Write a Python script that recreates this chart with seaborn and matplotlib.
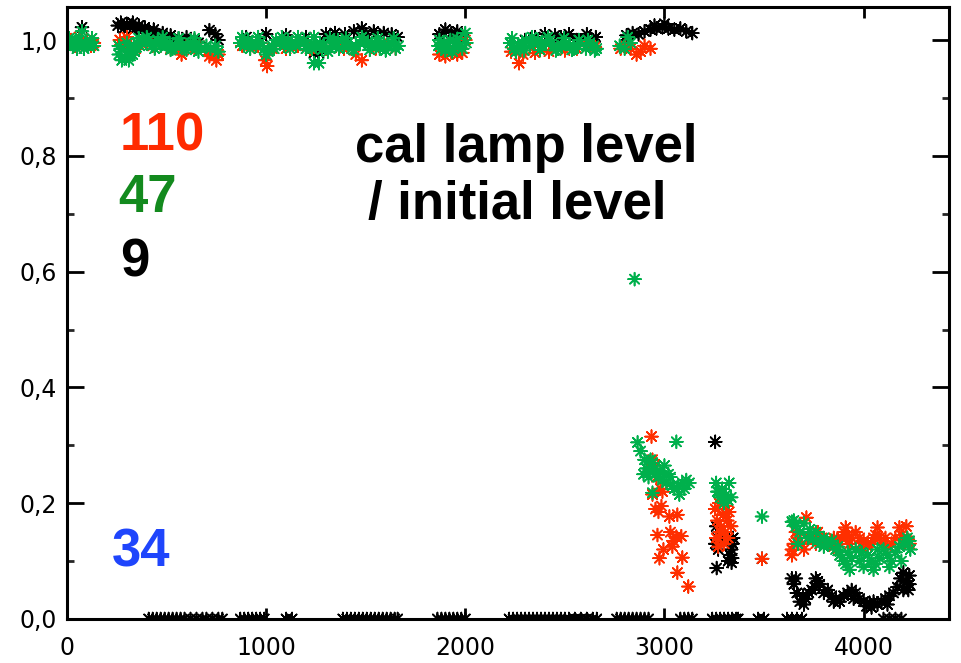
import matplotlib
matplotlib.use("Agg")
import matplotlib.pyplot as plt
from matplotlib.ticker import FixedLocator, MultipleLocator, FuncFormatter
import pandas as pd
import seaborn as sns

# Relative cal-lamp level (level / initial level) versus time, per lamp.
# Each series is a list of (time, relative level) readings.
lamp110 = [
    (0, 0.995), (20, 1.0), (40, 0.99), (60, 1.005), (80, 0.995), (100, 1.0), (120, 0.99), (135, 0.995),
    (265, 1.0), (285, 0.99), (300, 1.005), (320, 0.99), (345, 0.985), (370, 0.995), (400, 0.995),
    (430, 0.99), (470, 0.99), (520, 0.985), (560, 0.985), (575, 0.975), (600, 0.99), (640, 0.985), (665, 0.99),
    (705, 0.98), (715, 0.972), (750, 0.965), (760, 0.975),
    (880, 0.99), (920, 0.985), (960, 0.99), (995, 0.965), (1005, 0.955), (1030, 0.985), (1100, 0.985),
    (1160, 0.99), (1220, 0.985), (1300, 0.985), (1350, 0.99),
    (1390, 0.985), (1450, 0.975), (1480, 0.965), (1550, 0.985), (1600, 0.99), (1650, 0.985),
    (1870, 0.975), (1900, 0.972), (1930, 0.978), (1960, 0.975), (1985, 0.978), (2000, 1.0),
    (2230, 0.98), (2270, 0.96), (2290, 0.975), (2350, 0.978), (2420, 0.98), (2500, 0.982), (2560, 0.985),
    (2620, 0.99), (2650, 0.988),
    (2780, 0.985), (2800, 0.99), (2830, 0.985), (2860, 0.975), (2880, 0.98), (2900, 0.99), (2930, 0.985),
    (2935, 0.315), (2940, 0.275), (2950, 0.265), (2960, 0.245), (2980, 0.225), (2990, 0.22), (2940, 0.215),
    (2955, 0.19), (2970, 0.185), (2985, 0.195), (3025, 0.177), (3065, 0.18), (2965, 0.145), (3030, 0.15),
    (3045, 0.135), (3060, 0.142), (3085, 0.143), (2995, 0.12), (3040, 0.125), (2975, 0.105), (3090, 0.106),
    (3065, 0.08), (3120, 0.056),
    (3255, 0.19), (3265, 0.17), (3275, 0.2), (3285, 0.16), (3295, 0.18), (3305, 0.15), (3315, 0.17),
    (3325, 0.185), (3335, 0.16), (3260, 0.14), (3300, 0.13), (3320, 0.14), (3280, 0.15), (3270, 0.125),
    (3310, 0.195),
    (3490, 0.104),
    (3640, 0.12), (3640, 0.11), (3650, 0.13), (3670, 0.14), (3690, 0.13), (3713, 0.175), (3730, 0.14),
    (3750, 0.145), (3770, 0.15), (3790, 0.14), (3810, 0.135), (3830, 0.13), (3850, 0.125), (3870, 0.135),
    (3890, 0.14), (3900, 0.15), (3910, 0.158), (3920, 0.145), (3940, 0.14), (3960, 0.15), (3980, 0.14),
    (4000, 0.135), (4020, 0.125), (4040, 0.13), (4060, 0.145), (4070, 0.158), (4080, 0.14), (4100, 0.13),
    (4120, 0.125), (4140, 0.13), (4160, 0.14), (4180, 0.158), (4200, 0.14), (4215, 0.16), (4220, 0.135),
    (4230, 0.13),
    (3660, 0.15), (3700, 0.12), (3760, 0.13), (3850, 0.14), (3930, 0.13), (3990, 0.125), (4050, 0.14),
    (4110, 0.14), (4190, 0.145),
]

lamp47 = [
    (0, 0.99), (15, 0.995), (30, 0.99), (45, 1.0), (60, 1.0), (75, 1.015), (90, 0.995), (105, 0.99),
    (120, 0.995), (135, 0.99), (10, 1.003), (50, 0.985), (85, 0.985), (125, 1.003),
    (260, 0.975), (275, 0.965), (290, 0.97), (305, 0.98), (320, 0.985), (335, 0.99), (350, 0.995),
    (365, 0.99), (380, 1.0), (395, 0.995), (410, 1.0), (425, 0.99), (440, 0.995), (455, 1.0), (470, 0.99),
    (485, 0.995), (500, 0.99), (515, 0.995), (530, 0.985), (545, 0.99), (560, 0.995), (575, 0.99),
    (590, 0.985), (605, 0.99), (620, 0.995), (635, 0.99), (650, 0.985), (665, 0.99), (260, 0.99),
    (300, 0.995), (340, 0.98),
    (270, 0.985), (310, 0.965), (330, 0.975), (360, 1.003), (400, 1.005), (440, 0.985), (480, 1.005),
    (520, 0.983), (560, 1.003), (600, 0.983), (640, 1.003), (660, 0.98),
    (700, 0.99), (720, 0.985), (745, 0.99), (760, 0.98),
    (870, 0.995), (890, 0.99), (910, 1.0), (930, 0.995), (950, 0.99), (970, 0.995), (990, 0.985),
    (1010, 0.98), (1030, 0.99), (1050, 1.0), (1070, 0.995), (1090, 0.99), (1110, 1.0), (1130, 0.995),
    (1150, 0.99), (1170, 0.995), (1190, 1.0), (1210, 0.99), (1230, 0.985), (1250, 0.99), (1270, 0.995),
    (1290, 0.99), (1310, 0.98), (1330, 0.99), (1350, 0.995), (1365, 0.985), (1240, 0.96), (1265, 0.96),
    (1000, 0.975),
    (880, 1.005), (920, 0.985), (960, 1.005), (1040, 0.985), (1080, 1.005), (1120, 0.985), (1160, 1.005),
    (1200, 0.985), (1240, 1.005), (1280, 0.983), (1320, 1.003), (1360, 1.0),
    (1390, 0.99), (1410, 0.995), (1430, 0.985), (1450, 0.99), (1470, 0.995), (1490, 1.0), (1510, 0.99),
    (1530, 0.995), (1550, 0.99), (1570, 0.985), (1590, 0.995), (1610, 0.99), (1630, 0.995), (1650, 0.985),
    (1665, 0.99),
    (1400, 1.003), (1440, 0.983), (1480, 1.005), (1520, 0.983), (1560, 1.003), (1600, 0.982), (1640, 1.003),
    (1865, 0.99), (1880, 0.985), (1895, 0.995), (1910, 0.99), (1925, 1.0), (1940, 0.985), (1955, 0.995),
    (1970, 0.99), (2000, 1.012), (2005, 0.995),
    (1870, 1.0), (1900, 0.982), (1935, 0.98), (1960, 1.002), (1985, 0.985),
    (2225, 0.995), (2245, 0.985), (2265, 0.99), (2285, 0.995), (2305, 1.0), (2325, 0.99), (2345, 0.995),
    (2365, 1.0), (2385, 0.99), (2405, 0.995), (2425, 1.0), (2445, 0.99), (2465, 0.985), (2485, 0.99),
    (2505, 0.995), (2525, 0.99), (2545, 0.985), (2565, 0.99),
    (2235, 1.003), (2255, 0.98), (2295, 0.982), (2335, 1.005), (2375, 0.983), (2415, 1.005), (2455, 0.982),
    (2495, 1.003), (2535, 0.983), (2570, 1.0),
    (2605, 0.985), (2625, 0.995), (2645, 0.99), (2660, 0.985), (2615, 1.0), (2650, 0.982),
    (2775, 0.99), (2800, 0.985), (2815, 1.005), (2830, 0.995),
    (2850, 0.587),
    (2865, 0.305), (3060, 0.306), (2880, 0.29), (2900, 0.275), (2910, 0.26), (2925, 0.255), (2930, 0.275),
    (2940, 0.27), (2955, 0.25), (2970, 0.245), (2990, 0.24), (3000, 0.265), (3010, 0.235), (3030, 0.245),
    (3050, 0.225), (3070, 0.23), (3090, 0.235), (3110, 0.24), (3125, 0.235), (2940, 0.218), (3075, 0.215),
    (2895, 0.25), (2920, 0.245), (2950, 0.26), (2980, 0.255), (3020, 0.25), (3040, 0.23), (3100, 0.225),
    (3260, 0.235), (3265, 0.22), (3270, 0.22), (3280, 0.21), (3290, 0.225), (3300, 0.2), (3310, 0.215),
    (3320, 0.205), (3325, 0.235), (3335, 0.21),
    (3490, 0.177),
    (3640, 0.168), (3650, 0.17), (3660, 0.16), (3680, 0.15), (3700, 0.165), (3720, 0.14), (3745, 0.137),
    (3760, 0.15), (3780, 0.13), (3800, 0.14), (3820, 0.13), (3840, 0.135), (3860, 0.12), (3880, 0.11),
    (3900, 0.1), (3920, 0.115), (3930, 0.085), (3940, 0.105), (3960, 0.12), (3980, 0.1), (4000, 0.09),
    (4020, 0.11), (4040, 0.1), (4050, 0.085), (4060, 0.095), (4080, 0.105), (4100, 0.12), (4120, 0.11),
    (4140, 0.1), (4160, 0.115), (4180, 0.125), (4200, 0.13), (4220, 0.14), (4235, 0.12),
    (3670, 0.13), (3730, 0.155), (3800, 0.125), (3870, 0.125), (3910, 0.095), (3990, 0.115), (4070, 0.12),
    (4130, 0.09), (4190, 0.1), (4230, 0.135),
]

lamp9 = [
    (75, 1.022),
    (255, 1.025), (270, 1.03), (285, 1.02), (300, 1.028), (315, 1.022), (330, 1.03), (345, 1.02),
    (360, 1.025), (375, 1.018), (390, 1.022), (405, 1.015), (420, 1.012), (435, 1.018), (450, 1.01),
    (465, 1.008), (480, 1.012), (500, 1.005), (520, 1.008), (540, 1.0), (560, 1.003), (580, 0.998),
    (600, 1.005), (620, 0.998), (640, 1.0), (660, 0.995),
    (715, 1.017), (745, 1.01), (760, 1.0),
    (900, 1.005), (1000, 1.01), (1100, 1.008), (1200, 1.005), (1300, 1.01), (1345, 1.012),
    (1240, 0.978), (1265, 0.978),
    (1395, 1.01), (1440, 1.015), (1480, 1.02), (1500, 1.01), (1540, 1.015), (1590, 1.012), (1630, 1.01),
    (1660, 1.005),
    (1870, 1.01), (1900, 1.018), (1930, 1.012), (1960, 1.015), (1985, 1.008),
    (2300, 1.0), (2350, 1.005), (2400, 1.01), (2450, 1.008), (2480, 1.005), (2520, 1.01), (2560, 1.0),
    (2610, 1.01), (2640, 1.0), (2655, 1.005),
    (2810, 1.008), (2840, 1.012), (2870, 1.01), (2900, 1.015), (2930, 1.018), (2950, 1.025), (2960, 1.02),
    (2990, 1.022), (3000, 1.028), (3020, 1.02), (3050, 1.018), (3080, 1.02), (3110, 1.015), (3140, 1.012),
    (3255, 0.306), (3260, 0.16), (3265, 0.14), (3270, 0.12), (3255, 0.13), (3262, 0.088), (3280, 0.14),
    (3320, 0.1), (3330, 0.11), (3337, 0.097), (3340, 0.105), (3342, 0.13), (3345, 0.14), (3335, 0.12),
    (3490, 0.104),
    (3640, 0.07), (3650, 0.06), (3665, 0.045), (3680, 0.03), (3695, 0.04), (3710, 0.035), (3725, 0.045),
    (3740, 0.05), (3755, 0.055), (3770, 0.065), (3780, 0.06), (3800, 0.045), (3820, 0.05), (3840, 0.04),
    (3860, 0.035), (3880, 0.03), (3900, 0.04), (3920, 0.045), (3940, 0.05), (3960, 0.045), (3980, 0.035),
    (4000, 0.03), (4015, 0.022), (4030, 0.028), (4050, 0.03), (4070, 0.025), (4090, 0.03), (4110, 0.035),
    (4130, 0.04), (4150, 0.045), (4170, 0.055), (4185, 0.07), (4200, 0.08), (4215, 0.065), (4225, 0.05),
    (4230, 0.06),
    (3660, 0.07), (3700, 0.025), (3760, 0.07), (3850, 0.03), (3950, 0.035), (4040, 0.02), (4120, 0.025),
    (4200, 0.05), (4230, 0.075),
]

# Readings that dropped to zero level
zero_x = [
    410, 430, 450, 470, 490, 510, 530, 550, 570, 590, 620, 650, 680, 700, 730, 760, 780,
    870, 890, 910, 930, 950, 970, 990, 1100, 1130,
    1385, 1405, 1425, 1445, 1465, 1485, 1505, 1525, 1545, 1565, 1585, 1605, 1625, 1645, 1660,
    1860, 1880, 1900, 1920, 1940, 1960, 1980, 2000,
    2220, 2240, 2260, 2280, 2300, 2320, 2340, 2360, 2380, 2400, 2420, 2440, 2460, 2480, 2500, 2520,
    2550, 2580, 2610, 2640, 2660,
    2760, 2780, 2800, 2820, 2840, 2860, 2880, 2900, 2920,
    3080, 3100, 3120, 3140,
    3240, 3260, 3280, 3300, 3320, 3340, 3360, 3370,
    3470, 3500, 3615, 3640, 3665, 3690, 4100, 4130, 4160, 4190,
]
zero_y = [0.0] * len(zero_x)

series_colors = {"zero": "#000000", "9": "#000000", "110": "#ff2f00", "47": "#00b04c"}

x_ticks = [0, 1000, 2000, 3000, 4000]
y_ticks = [0.0, 0.2, 0.4, 0.6, 0.8, 1.0]

rows = []
for name, pts in [("9", lamp9), ("110", lamp110), ("47", lamp47)]:
    rows += [{"t": t, "level": v, "lamp": name} for t, v in pts]
rows = [{"t": t, "level": v, "lamp": "zero"} for t, v in zip(zero_x, zero_y)] + rows
df = pd.DataFrame(rows)

sns.set_theme(style="white")
plt.rcParams["font.family"] = ["DejaVu Sans"]

fig = plt.figure(figsize=(9.62, 6.63), dpi=100)
ax = fig.add_axes([0.0697, 0.0664, 0.917, 0.923])

sns.scatterplot(data=df, x="t", y="level", hue="lamp", palette=series_colors,
                marker=(8, 2, 0), s=85, linewidth=1.2, legend=False, ax=ax)

ax.set_xlim(0, 4430)
ax.set_ylim(0, 1.057)
ax.set_xlabel("")
ax.set_ylabel("")

ax.xaxis.set_major_locator(FixedLocator(x_ticks))
ax.yaxis.set_major_locator(FixedLocator(y_ticks))
ax.yaxis.set_minor_locator(MultipleLocator(0.1))
ax.xaxis.set_major_formatter(FuncFormatter(lambda v, p: f"{v:.0f}"))
ax.yaxis.set_major_formatter(FuncFormatter(lambda v, p: f"{v:.1f}".replace(".", ",")))

ax.tick_params(axis="x", which="major", direction="in", top=True, bottom=True,
               length=8, width=2, labelsize=17, pad=12, colors="black")
ax.tick_params(axis="y", which="major", direction="in", left=True, right=True,
               length=12, width=2, labelsize=17, pad=7, colors="black")
ax.tick_params(axis="y", which="minor", direction="in", left=True, right=True,
               length=5, width=2)
for sp in ax.spines.values():
    sp.set_visible(True)
    sp.set_color("black")
    sp.set_linewidth(2.2)

label_font = dict(family=["Liberation Sans", "DejaVu Sans"], fontweight="bold", fontsize=38)
ax.text(266, 0.809, "110", color="#ff2a00", va="baseline", ha="left", **label_font)
ax.text(256, 0.703, "47", color="#138a1e", va="baseline", ha="left", **label_font)
ax.text(266, 0.592, "9", color="black", va="baseline", ha="left", **label_font)
ax.text(226, 0.09, "34", color="#1f45fc", va="baseline", ha="left", **label_font)
ax.text(1445, 0.79, "cal lamp level", color="black", va="baseline", ha="left", **label_font)
ax.text(1510, 0.691, "/ initial level", color="black", va="baseline", ha="left", **label_font)

fig.savefig("out.png", dpi=100)
